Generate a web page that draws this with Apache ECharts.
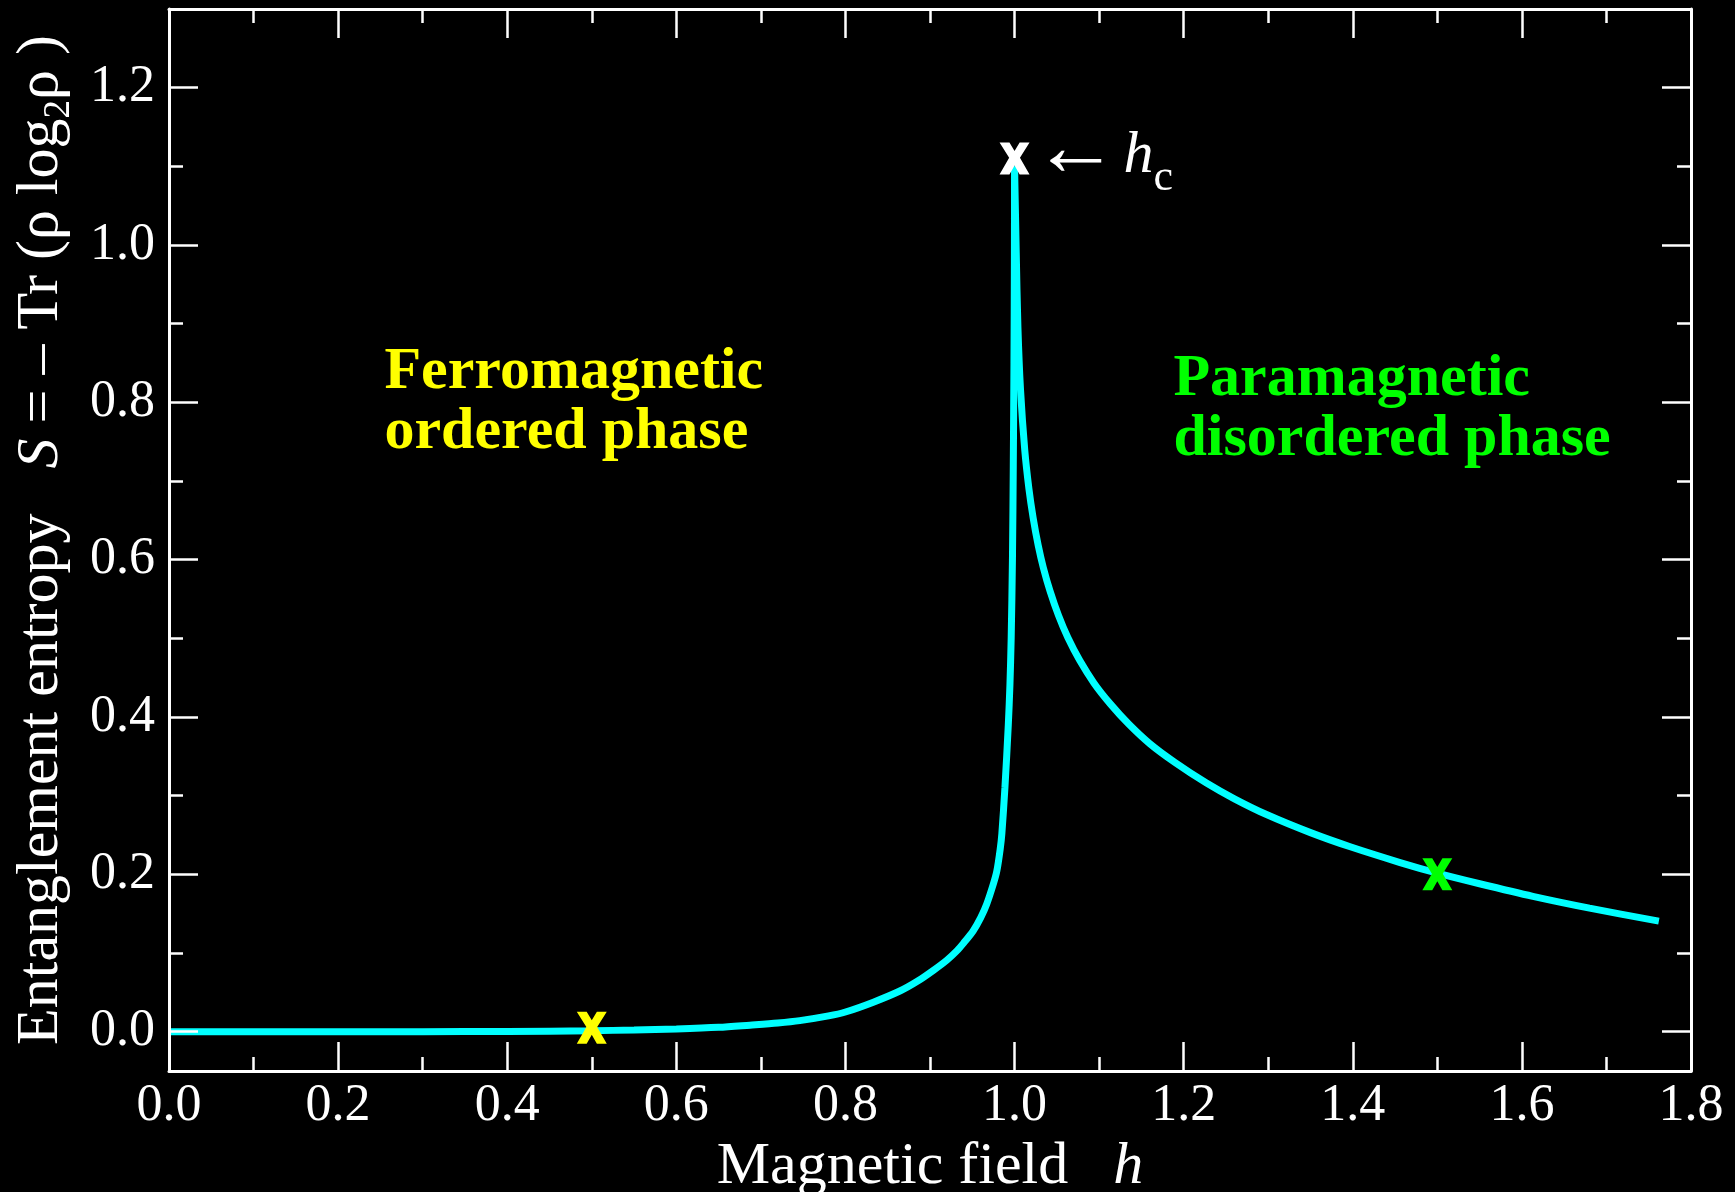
<!DOCTYPE html>
<html>
<head>
<meta charset="utf-8">
<title>Entanglement entropy</title>
<script src="https://cdn.jsdelivr.net/npm/echarts@6/dist/echarts.min.js"></script>
<style>
  html, body { margin: 0; padding: 0; background: #000; }
  #chart { width: 1735px; height: 1192px; }
</style>
</head>
<body>
<div id="chart"></div>
<script>
// curve
var hValues = [0.00, 0.10, 0.20, 0.30, 0.40, 0.50, 0.55, 0.60, 0.65, 0.687, 0.72, 0.746, 0.78, 0.80,
  0.833, 0.865, 0.885, 0.904, 0.92, 0.932, 0.94, 0.951, 0.96, 0.967, 0.975, 0.979, 0.983, 0.985,
  0.9886, 0.9926, 0.9945, 0.996, 0.9975, 0.9985, 0.9993, 0.9998, 1.000,
  1.002, 1.004, 1.007, 1.012, 1.017, 1.022, 1.028, 1.034, 1.042, 1.052, 1.063, 1.077, 1.094,
  1.113, 1.135, 1.160, 1.190, 1.227, 1.260, 1.298, 1.350, 1.397, 1.456, 1.50, 1.55, 1.613, 1.68, 1.762];
var entropy = [0.000, 0.000, 0.000, 0.000, 0.0003, 0.0012, 0.0022, 0.0035, 0.0055, 0.0083, 0.011, 0.014, 0.020, 0.025,
  0.0375, 0.052, 0.064, 0.078, 0.091, 0.103, 0.113, 0.128, 0.145, 0.162, 0.188, 0.204, 0.232, 0.252,
  0.31, 0.39, 0.44, 0.50, 0.60, 0.72, 0.85, 0.98, 1.10,
  0.99, 0.895, 0.817, 0.740, 0.690, 0.653, 0.618, 0.590, 0.560, 0.529, 0.501, 0.472, 0.443,
  0.417, 0.391, 0.366, 0.342, 0.316, 0.296, 0.276, 0.253, 0.235, 0.215, 0.2015, 0.188, 0.172, 0.157, 0.1405];

// axis ticks
var xTicks = [0, 0.2, 0.4, 0.6, 0.8, 1.0, 1.2, 1.4, 1.6, 1.8];
var xMinor = [0.1, 0.3, 0.5, 0.7, 0.9, 1.1, 1.3, 1.5, 1.7];
var yTicks = [0, 0.2, 0.4, 0.6, 0.8, 1.0, 1.2];
var yMinor = [0.1, 0.3, 0.5, 0.7, 0.9, 1.1];

// the three "x" marks
var markerH = [0.5, 1.0, 1.5];
var markerS = [0.005, 1.11, 0.2];

// phase texts, anchored at their top-left corner
var phaseText = ['Ferromagnetic\nordered phase', 'Paramagnetic\ndisordered phase'];
var phaseH = [0.2554, 1.1885];
var phaseS = [0.876, 0.866];

var FONT = 'Liberation Serif';
var markerColors = ['#ffff00', '#ffffff', '#00ff00'];
var phaseColors = ['#ffff00', '#00ff00'];
var boldX = 'path://M0,0 L33,0 L50,27 L67,0 L100,0 L68,48 L100,100 L67,100 L50,72 L33,100 L0,100 L32,48 Z';

function xAx(pos, ticks, len, withLabel, withLine) {
    return {
        type: 'value', position: pos, min: 0, max: 1.8, z: 5,
        axisLine: { show: withLine, onZero: false, lineStyle: { color: '#fff', width: 3 } },
        axisTick: { show: true, inside: true, length: len, customValues: ticks, lineStyle: { color: '#fff', width: 2.5 } },
        axisLabel: {
            show: withLabel, customValues: ticks, margin: 9, color: '#fff',
            fontFamily: FONT, fontSize: 52,
            formatter: function (v) { return v.toFixed(1); }
        },
        splitLine: { show: false }
    };
}
function yAx(pos, ticks, len, withLabel, withLine) {
    return {
        type: 'value', position: pos, min: -0.05, max: 1.3, z: 5,
        axisLine: { show: withLine, onZero: false, lineStyle: { color: '#fff', width: 3 } },
        axisTick: { show: true, inside: true, length: len, customValues: ticks, lineStyle: { color: '#fff', width: 2.5 } },
        axisLabel: {
            show: withLabel, customValues: ticks, margin: 14, color: '#fff',
            fontFamily: FONT, fontSize: 52,
            formatter: function (v) { return v.toFixed(1); }
        },
        splitLine: { show: false }
    };
}

var xMain = xAx('bottom', xTicks, 29, true, true);
xMain.name = '{n|Magnetic field   }{i|h}';
xMain.nameLocation = 'middle';
xMain.nameGap = 56;
xMain.nameTextStyle = {
    rich: {
        n: { fontFamily: FONT, fontSize: 60, color: '#fff' },
        i: { fontFamily: FONT, fontSize: 60, color: '#fff', fontStyle: 'italic' }
    }
};

var yMain = yAx('left', yTicks, 29, true, true);
yMain.name = '{n|Entanglement entropy   }{i|S}{n| = – Tr (ρ log}{s|2}{n|ρ )}';
yMain.nameLocation = 'middle';
yMain.nameGap = 90;
yMain.nameTextStyle = {
    rich: {
        n: { fontFamily: FONT, fontSize: 60, color: '#fff', lineHeight: 76 },
        i: { fontFamily: FONT, fontSize: 60, color: '#fff', lineHeight: 76, fontStyle: 'italic' },
        s: { fontFamily: FONT, fontSize: 37, color: '#fff', lineHeight: 37, verticalAlign: 'top', padding: [38, 0, 0, 0] }
    }
};

var chart = echarts.init(document.getElementById('chart'));

// split the curve at the cusp so each branch can be smoothed on its own
var peak = entropy.indexOf(Math.max.apply(null, entropy));
var curve = hValues.map(function (h, i) { return [h, entropy[i]]; });
var leftBranch = curve.slice(0, peak + 1);
var rightBranch = curve.slice(peak);

var markers = markerH.map(function (h, i) {
    var item = { value: [h, markerS[i]], itemStyle: { color: markerColors[i], opacity: 1 } };
    if (i === 1) {
        item.label = {
            show: true, position: 'right', distance: 3, offset: [0, -6],
            formatter: '{a|←}{sp| }{i|h}{s|c}',
            rich: {
                a: { fontFamily: FONT, fontSize: 86, color: '#fff', lineHeight: 96 },
                sp: { fontFamily: FONT, fontSize: 20, color: '#fff', lineHeight: 96 },
                i: { fontFamily: FONT, fontSize: 60, color: '#fff', lineHeight: 60, fontStyle: 'italic', verticalAlign: 'top', padding: [22, 0, 0, 0] },
                s: { fontFamily: FONT, fontSize: 44, color: '#fff', lineHeight: 44, verticalAlign: 'top', padding: [52, 0, 0, 0] }
            }
        };
    }
    return item;
});
var phases = phaseText.map(function (t, i) {
    return {
        value: [phaseH[i], phaseS[i]],
        label: { formatter: t, color: phaseColors[i] }
    };
});

var lineStyle = { color: '#00ffff', width: 7 };

chart.setOption({
    backgroundColor: '#000',
    animation: false,
    grid: { left: 169, right: 44, top: 9, bottom: 121, containLabel: false, outerBoundsMode: 'none' },
    xAxis: [
        xMain,
        xAx('bottom', xMinor, 14, false, false),
        xAx('top', xTicks, 29, false, true),
        xAx('top', xMinor, 14, false, false)
    ],
    yAxis: [
        yMain,
        yAx('left', yMinor, 14, false, false),
        yAx('right', yTicks, 29, false, true),
        yAx('right', yMinor, 14, false, false)
    ],
    series: [
        { type: 'line', data: leftBranch, showSymbol: false, smooth: 0.3, lineStyle: lineStyle, z: 2 },
        { type: 'line', data: rightBranch, showSymbol: false, smooth: 0.3, lineStyle: lineStyle, z: 2 },
        {
            type: 'scatter',
            data: markers,
            symbol: boldX,
            symbolSize: [30, 32],
            itemStyle: { opacity: 1 },
            z: 6
        },
        {
            type: 'scatter',
            data: phases,
            symbolSize: 1,
            itemStyle: { color: 'transparent', opacity: 1 },
            label: {
                show: true, position: [0, 0], align: 'left', verticalAlign: 'top',
                fontFamily: FONT, fontSize: 60, fontWeight: 'bold', lineHeight: 60
            },
            z: 4
        }
    ]
});
</script>
</body>
</html>
